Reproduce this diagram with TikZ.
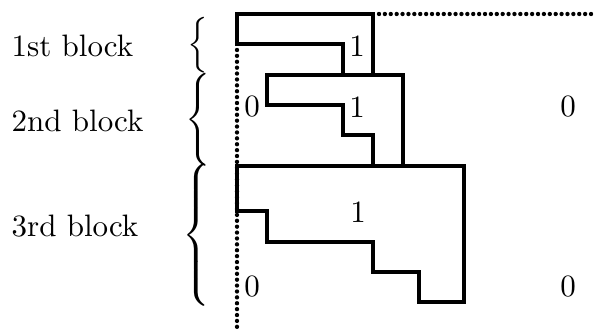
\documentclass[tikz,border=0pt]{standalone}
\begin{document}
\begin{tikzpicture}[x=0.3226pt,y=-0.3226pt,
  blockline/.style={line width=1pt,line join=miter},
  dotline/.style={line width=1.4pt,line cap=round,dash pattern=on 0pt off 1.9pt},
  lbl/.style={inner sep=0pt,anchor=base west},
  digit/.style={inner sep=0pt},
  brace/.style={inner sep=0pt}]
\useasboundingbox (0,0) rectangle (594,331);
% dotted guide lines
\draw[dotline] (237,50) -- (237,329);
\draw[dotline] (379,14) -- (594,14);
% blocks
\draw[blockline] (237,14) -- (373,14) -- (373,75) -- (343,75) -- (343,44) -- (237,44) -- cycle;
\draw[blockline] (267,75) -- (403,75) -- (403,166) -- (373,166) -- (373,135) -- (343,135) -- (343,105) -- (267,105) -- cycle;
\draw[blockline] (237,166) -- (464,166) -- (464,302) -- (419,302) -- (419,272) -- (373,272) -- (373,242) -- (267,242) -- (267,211) -- (237,211) -- cycle;
% labels
\node[lbl] (l1) at (11,57) {1st block};
\node[lbl] (l2) at (11,132) {2nd block};
\node[lbl] (l3) at (11,237) {3rd block};
% braces
\node[brace] (b1) at (198,45.5) {$\Big\{$};
\node[brace] (b2) at (198,120) {$\Bigg\{$};
\node[brace] (b3) at (198,235) {\scalebox{1}[0.96]{$\left\{\rule[-21pt]{0pt}{42pt}\right.$}};
% digits
\node[digit] (o1) at (357,46) {1};
\node[digit] (o2) at (357,107) {1};
\node[digit] (o3) at (358,212) {1};
\node[digit] (z1) at (252,107) {0};
\node[digit] (z2) at (568,107) {0};
\node[digit] (z3) at (252,287) {0};
\node[digit] (z4) at (568,287) {0};
\end{tikzpicture}
\end{document}
